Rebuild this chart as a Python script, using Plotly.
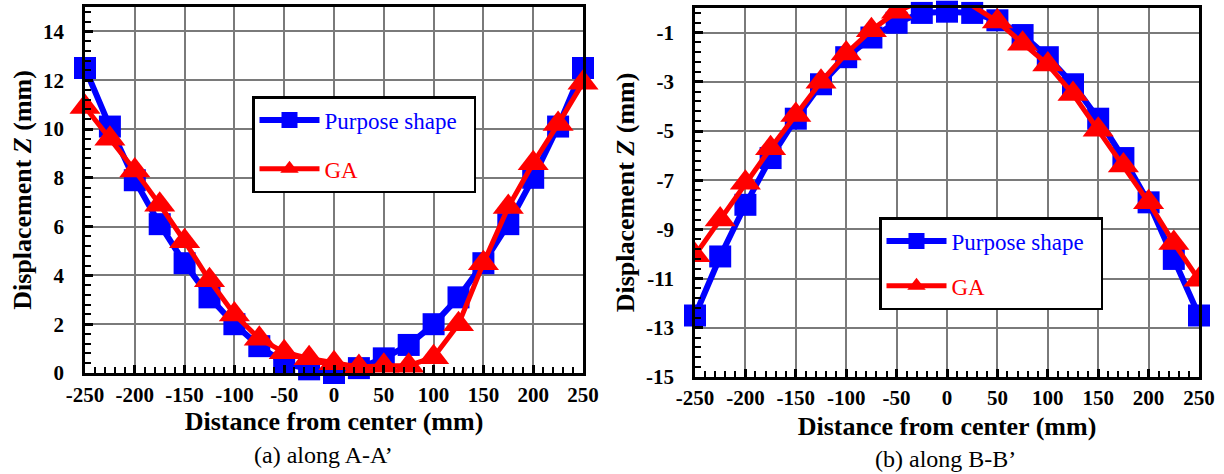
import plotly.graph_objects as go

# ---- data ----
distance = [-250, -225, -200, -175, -150, -125, -100, -75, -50, -25, 0,
            25, 50, 75, 100, 125, 150, 175, 200, 225, 250]

a_purpose = [12.5, 10.1, 7.9, 6.1, 4.5, 3.1, 2.0, 1.1, 0.4, 0.15, 0.0,
             0.2, 0.6, 1.15, 2.0, 3.1, 4.5, 6.1, 8.0, 10.1, 12.5]
a_ga = [10.9, 9.6, 8.3, 6.9, 5.4, 3.8, 2.4, 1.4, 0.85, 0.6, 0.4,
        0.25, 0.3, 0.3, 0.65, 2.0, 4.5, 6.8, 8.6, 10.2, 11.9]

b_purpose = [-12.5, -10.1, -8.0, -6.1, -4.5, -3.1, -2.0, -1.2, -0.6, -0.2, -0.15,
             -0.2, -0.5, -1.1, -2.0, -3.1, -4.5, -6.1, -7.9, -10.2, -12.5]
b_ga = [-10.05, -8.6, -7.1, -5.7, -4.35, -3.0, -1.85, -0.9, -0.15, 0.3, 0.4,
        0.1, -0.55, -1.45, -2.3, -3.5, -4.95, -6.4, -7.9, -9.55, -11.05]

x_ticks = [-250, -200, -150, -100, -50, 0, 50, 100, 150, 200, 250]
a_y_ticks = [0, 2, 4, 6, 8, 10, 12, 14]
b_y_ticks = [-1, -3, -5, -7, -9, -11, -13, -15]
captions = ["(a) along A-A\u2019", "(b) along B-B\u2019"]

BLUE = "#0000ff"
RED = "#ff0000"
SERIF = "Liberation Serif"
W, H = 1224, 474
PAD = "\u00a0" * 2

fig = go.Figure()

def add_pair(xa, ya, purpose, ga, legend, clip_ga):
    fig.add_trace(go.Scatter(
        x=distance, y=purpose, xaxis=xa, yaxis=ya, mode="lines+markers",
        name='<span style="color:#0000ff">Purpose shape</span>' + PAD,
        line=dict(color=BLUE, width=6),
        marker=dict(symbol="square", size=22, color=BLUE),
        cliponaxis=False, legend=legend, legendgroup=legend + "p"))
    fig.add_trace(go.Scatter(
        x=distance, y=ga, xaxis=xa, yaxis=ya, mode="lines+markers",
        name='<span style="color:#ff0000">GA</span>',
        line=dict(color=RED, width=5),
        marker=dict(symbol="triangle-up", size=27, color=RED),
        cliponaxis=clip_ga, legend=legend, legendgroup=legend + "g"))

add_pair("x", "y", a_purpose, a_ga, "legend", False)
add_pair("x2", "y2", b_purpose, b_ga, "legend2", True)

tickfont = dict(family=SERIF, size=21, color="black")
titlefont = dict(family=SERIF, size=26, color="black")

def xaxis(domain, anchor, lab_off, title_off):
    return dict(
        domain=domain, anchor=anchor, range=[-250, 250], automargin=False,
        tickmode="array", tickvals=x_ticks, ticktext=["<b>%d</b>" % v for v in x_ticks],
        showgrid=True, gridcolor="#7a7a7a", gridwidth=1.6,
        showline=True, linecolor="black", linewidth=2.5, mirror=True,
        ticks="inside", ticklen=8, tickwidth=2.5, tickcolor="black",
        minor=dict(dtick=10, ticks="inside", ticklen=6, tickwidth=2, tickcolor="black", showgrid=False),
        tickfont=tickfont, ticklabelstandoff=lab_off, zeroline=False,
        title=dict(text="<b>Distance from center (mm)</b>", font=titlefont, standoff=title_off),
    )

def yaxis(domain, anchor, rng, ticks, tick0):
    return dict(
        domain=domain, anchor=anchor, range=rng, automargin=False,
        tickmode="array", tickvals=ticks, ticktext=["<b>%d</b>" % v for v in ticks],
        showgrid=True, gridcolor="#7a7a7a", gridwidth=1.6,
        showline=True, linecolor="black", linewidth=2.5, mirror=True,
        ticks="inside", ticklen=8, tickwidth=2.5, tickcolor="black",
        minor=dict(dtick=0.4, tick0=tick0, ticks="inside", ticklen=6, tickwidth=2, tickcolor="black", showgrid=False),
        tickfont=tickfont, ticklabelstandoff=14, zeroline=False,
        title=dict(text="<b>Displacement <i>Z</i> (mm)</b>", font=titlefont, standoff=4),
    )

fig.update_layout(
    width=W, height=H, margin=dict(l=0, r=0, t=0, b=0),
    paper_bgcolor="white", plot_bgcolor="white",
    xaxis=xaxis([85 / W, 583 / W], "y", 1, 0),
    yaxis=yaxis([1 - 373 / H, 1 - 7 / H], "x", [0, 15], a_y_ticks, 0),
    xaxis2=xaxis([695 / W, 1199 / W], "y2", 0, 8),
    yaxis2=yaxis([1 - 377 / H, 1 - 8 / H], "x2", [-15, 0], b_y_ticks, -1),
    legend=dict(x=252 / W, y=1 - 96 / H, xanchor="left", yanchor="top",
                bgcolor="white", bordercolor="black", borderwidth=2.5,
                font=dict(family=SERIF, size=23), tracegroupgap=16,
                itemwidth=60),
    legend2=dict(x=879 / W, y=1 - 217 / H, xanchor="left", yanchor="top",
                 bgcolor="white", bordercolor="black", borderwidth=2.5,
                 font=dict(family=SERIF, size=23), tracegroupgap=12,
                 itemwidth=60),
    annotations=[
        dict(text=captions[0], x=323 / W, y=1 - 455 / H, xref="paper", yref="paper",
             xanchor="center", yanchor="middle",
             showarrow=False, font=dict(family=SERIF, size=24, color="black")),
        dict(text=captions[1], x=945 / W, y=1 - 459 / H, xref="paper", yref="paper",
             xanchor="center", yanchor="middle",
             showarrow=False, font=dict(family=SERIF, size=24, color="black")),
    ],
)

fig.write_html("out.html")
